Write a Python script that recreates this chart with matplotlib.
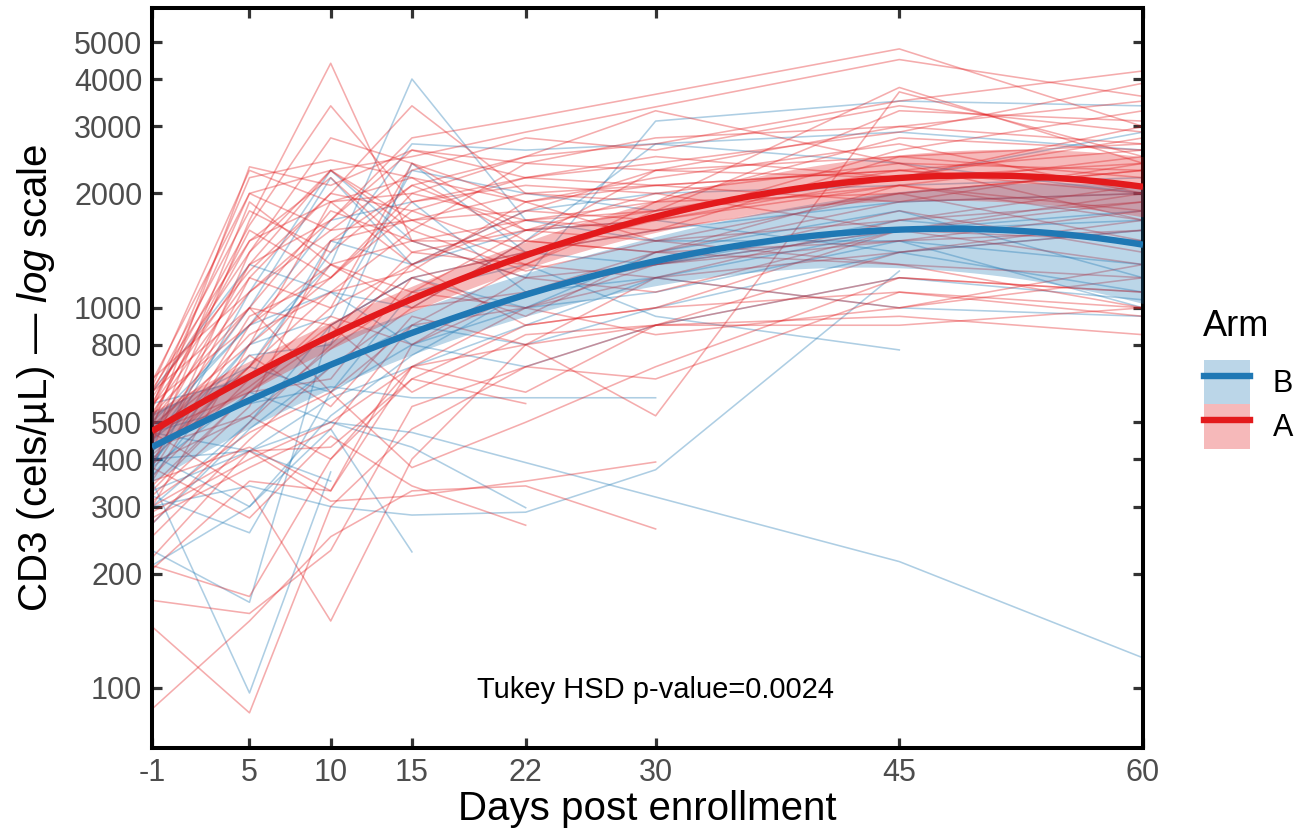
from __future__ import annotations

import matplotlib
matplotlib.use("Agg")
import matplotlib.pyplot as plt
import numpy as np
from matplotlib.lines import Line2D
from matplotlib.patches import Patch

plt.rcParams["font.family"] = ["Liberation Sans", "DejaVu Sans"]
plt.rcParams["mathtext.fontset"] = "custom"
plt.rcParams["mathtext.rm"] = "Liberation Sans"
plt.rcParams["mathtext.it"] = "Liberation Sans:italic"

DAYS = [-1, 5, 10, 15, 22, 30, 45, 60]
Y_TICKS = [100, 200, 300, 400, 500, 800, 1000, 2000, 3000, 4000, 5000]

# per-subject CD3 counts, one value per day in DAYS (None = not sampled)
ARM_A = [
    [480, 2350, 2100, 2600, 2400, 2300, 2500, 2200],
    [620, 2300, 1900, 2000, 2500, 3300, 2400, 1700],
    [550, 2200, 2450, 2200, 1900, 2100, 2300, 2600],
    [420, 1700, 4400, 1500, 1700, 1600, 2000, 2300],
    [560, 1650, 3400, 1900, 2200, 2100, 1900, 2000],
    [380, 1400, 2800, 2400, 1600, 1500, 1700, 1900],
    [600, 1250, 2000, 3400, 2000, 1900, 2800, 2600],
    [500, 1100, 1700, 2800, 3150, None, 4800, 3000],
    [450, 1300, 2300, 2500, 2900, None, 4500, 3600],
    [350, 900, 1500, 2100, 2500, 2700, 3500, 4200],
    [300, 800, 1200, 1800, 2200, 2400, 2900, 3900],
    [520, 1500, 2200, 1400, 1300, 1900, 3800, 2400],
    [640, 2000, 1600, 1700, 1800, 2300, 2200, 2800],
    [460, 1000, 900, 1200, 1400, 1700, 2600, 3300],
    [410, 700, 1100, 1600, 1250, 1500, 2000, 1500],
    [330, 600, 950, 800, 1100, 1300, 1500, 1800],
    [270, 500, 800, 1300, 1700, 1800, 2300, 2100],
    [250, 450, 700, 1000, 1500, 1400, 1300, 1200],
    [220, 420, 430, 650, 900, 1000, 1100, 950],
    [205, 350, 330, 700, 800, 900, 950, 850],
    [170, 157, 230, 550, 700, 650, 1100, 1000],
    [145, 86, 300, 480, 700, 900, 1200, 1100],
    [88, 150, 250, 330, 340, 262, None, None],
    [300, 420, 310, 320, 350, 393, None, None],
    [380, 280, 460, 340, 268, None, None, None],
    [350, 430, 330, 800, 1200, 1100, 1600, 1500],
    [470, 330, 150, 400, 800, 1200, 1700, 2100],
    [210, 174, 400, 700, 1000, 1200, 1400, 1600],
    [560, 900, 1300, 1000, 1100, 1400, 1900, 2400],
    [600, 1800, 1400, 2100, 1600, 1700, 2100, 1800],
    [530, 1200, 2000, 1800, 1400, 1600, 2500, 2700],
    [490, 800, 1900, 1300, 900, 1000, 1600, 1900],
    [440, 1900, 1300, 1100, 1600, 2000, 2400, 2300],
    [360, 650, 1000, 2400, 1900, 1500, 1300, 1000],
    [320, 550, 1500, 1700, 1300, 1200, 1000, 1300],
    [600, 1000, 600, 900, 1300, 1800, 3300, 3100],
    [470, 750, 550, 950, 800, 520, 3700, 2500],
    [420, 620, 900, 600, 850, 900, 1400, 1700],
    [390, 520, 780, 1100, 1000, 850, 1000, 1200],
    [650, 1100, 1600, 2300, 2800, 2600, 3400, 2900],
    [580, 1400, 2300, 1600, 2400, 2800, 3000, 2700],
    [510, 1600, 1200, 2000, 1700, 1900, 2000, 2300],
    [450, 850, 1100, 1250, 1900, 2200, 2700, 2000],
    [400, 700, 1300, 1500, 1200, 1300, 1600, 2000],
    [340, 600, 650, 1200, 950, 1400, 2100, 1700],
    [280, 380, 480, 900, 1000, 1300, 1800, 1400],
    [310, 470, 600, 380, 500, 700, 1200, 1100],
    [430, 520, 400, 650, 560, None, None, None],
    [550, 1300, 1700, 2600, 2200, 2500, 2200, 2400],
    [370, 950, 1200, 1900, 2100, 2000, 1600, 1300],
    [520, 1000, 1800, 1500, 1500, 2300, 3000, 3500],
    [470, 600, 850, 1400, 1600, 1800, 2100, 2500],
    [290, 400, 500, 700, 600, 900, 900, 1000],
    [540, 2000, 2300, 1700, 2000, 2100, 2300, 2000],
    [610, 1500, 1900, 2200, 1500, 1400, 1500, 1600],
    [390, 1200, 1000, 1300, 1800, 1700, 2200, 3000],
]

ARM_B = [
    [420, 800, 1300, 4000, 1700, 1500, 1500, 1300],
    [380, 1100, 2300, 1500, 1200, 3100, 3500, 3400],
    [450, 700, 1400, 2700, 2600, 2700, 2900, 2600],
    [300, 500, 900, 1200, 1400, 1300, 1600, 1700],
    [350, 97, 370, None, None, None, None, None],
    [470, 420, 350, None, None, None, None, None],
    [230, 168, 900, 1200, 1000, 1400, 1800, 1200],
    [320, 256, 600, 800, 1000, 1100, 1500, 1000],
    [410, 300, 480, 228, None, None, None, None],
    [380, 600, 500, 430, 298, None, None, None],
    [300, 340, 300, 285, 290, 375, 1250, None],
    [520, 700, 600, 1100, 1300, 950, 775, None],
    [470, 560, 620, 580, 580, 580, None, None],
    [400, 420, 500, 470, None, None, 215, 120],
    [600, 1300, 1100, 1000, 1500, 2700, 2400, 2000],
    [500, 900, 1700, 1900, 1100, 1300, 1700, 1500],
    [440, 1000, 2200, 1300, 1800, 2000, 2100, 2200],
    [360, 750, 800, 2400, 1400, 1600, 1900, 2000],
    [270, 480, 700, 900, 800, 1000, 1400, 1600],
    [480, 900, 1100, 800, 700, 900, 1200, 1050],
    [560, 650, 1500, 1300, 1600, 1700, 1400, 1100],
    [330, 420, 580, 700, 900, 1200, 1600, 1800],
    [210, 300, 520, 750, 1100, 1200, 1000, 950],
    [390, 800, 950, 2300, 2000, 1800, 2200, 2900],
]

FIT_A = [465, 680, 860, 1030, 1337, 1778, 2196, 2080]
FIT_A_LO = [415, 620, 795, 955, 1235, 1600, 1925, 1730]
FIT_A_HI = [525, 745, 930, 1115, 1450, 1975, 2510, 2500]
FIT_B = [423, 590, 716, 839, 1062, 1354, 1604, 1465]
FIT_B_LO = [338, 505, 625, 740, 925, 1140, 1300, 1020]
FIT_B_HI = [530, 690, 820, 950, 1220, 1610, 1975, 2100]

BLUE = "#1F78B4"
RED = "#E31A1C"


def smooth_curve(days: list[int], values: list[float], grid: np.ndarray) -> np.ndarray:
    """Smooth line through the read-off trend points (cubic in log space)."""
    coef = np.polyfit(days, np.log10(values), 3)
    return 10 ** np.polyval(coef, grid)


def draw_subjects(ax, subjects: list[list], color: str) -> None:
    days = np.array(DAYS, dtype=float)
    for row in subjects:
        vals = np.array([np.nan if v is None else v for v in row], dtype=float)
        keep = ~np.isnan(vals)
        ax.plot(days[keep], vals[keep], color=color, alpha=0.36, lw=1.15, zorder=2)


def main() -> None:
    fig = plt.figure(figsize=(13.04, 8.36), dpi=100)
    ax = fig.add_axes([152 / 1304, 1 - 748 / 836, (1143 - 152) / 1304, (748 - 8) / 836])

    draw_subjects(ax, ARM_B, BLUE)
    draw_subjects(ax, ARM_A, RED)

    grid = np.linspace(-1, 60, 300)
    for fit, lo, hi, color in [(FIT_B, FIT_B_LO, FIT_B_HI, BLUE), (FIT_A, FIT_A_LO, FIT_A_HI, RED)]:
        ax.fill_between(grid, smooth_curve(DAYS, lo, grid), smooth_curve(DAYS, hi, grid),
                        color=color, alpha=0.3, lw=0, zorder=3)
    for fit, color in [(FIT_B, BLUE), (FIT_A, RED)]:
        ax.plot(grid, smooth_curve(DAYS, fit, grid), color=color, lw=4.6, zorder=4,
                solid_capstyle="butt")

    ax.set_yscale("log")
    ax.set_xlim(-1, 60)
    ax.set_ylim(69.5, 6150)
    ax.set_xticks(DAYS)
    ax.set_xticklabels([str(d) for d in DAYS])
    ax.set_yticks(Y_TICKS)
    ax.set_yticklabels([str(t) for t in Y_TICKS])
    ax.yaxis.set_minor_locator(matplotlib.ticker.NullLocator())
    ax.tick_params(axis="both", which="major", direction="in", length=7, width=2.3,
                   color="#333333", labelcolor="#4D4D4D", labelsize=22, pad=7,
                   top=True, right=True)
    for spine in ax.spines.values():
        spine.set_linewidth(2.9)
        spine.set_color("black")

    ax.set_xlabel("Days post enrollment", fontsize=29, labelpad=2)
    ax.set_ylabel(r"CD3 (cels/µL) — $\it{log}$ scale", fontsize=29, labelpad=12)

    ax.text(30, 94.3, "Tukey HSD p-value=0.0024", ha="center", va="baseline", fontsize=21)

    # legend title placed separately so the gap to the keys matches
    fig.text(1203 / 1304, 1 - 336 / 836, "Arm", fontsize=26, ha="left", va="baseline")
    handles = [
        (Patch(facecolor=BLUE, alpha=0.3, lw=0), Line2D([], [], color=BLUE, lw=4.6)),
        (Patch(facecolor=RED, alpha=0.3, lw=0), Line2D([], [], color=RED, lw=4.6)),
    ]
    fig.legend(handles=handles, labels=["B", "A"], loc="upper left",
               bbox_to_anchor=(1204 / 1304, 1 - 360 / 836), frameon=False,
               borderpad=0, borderaxespad=0, fontsize=22, handlelength=1.5,
               handleheight=1.86, labelspacing=0, handletextpad=0.75)

    fig.savefig("out.png", dpi=100)
    plt.close(fig)


if __name__ == "__main__":
    main()
